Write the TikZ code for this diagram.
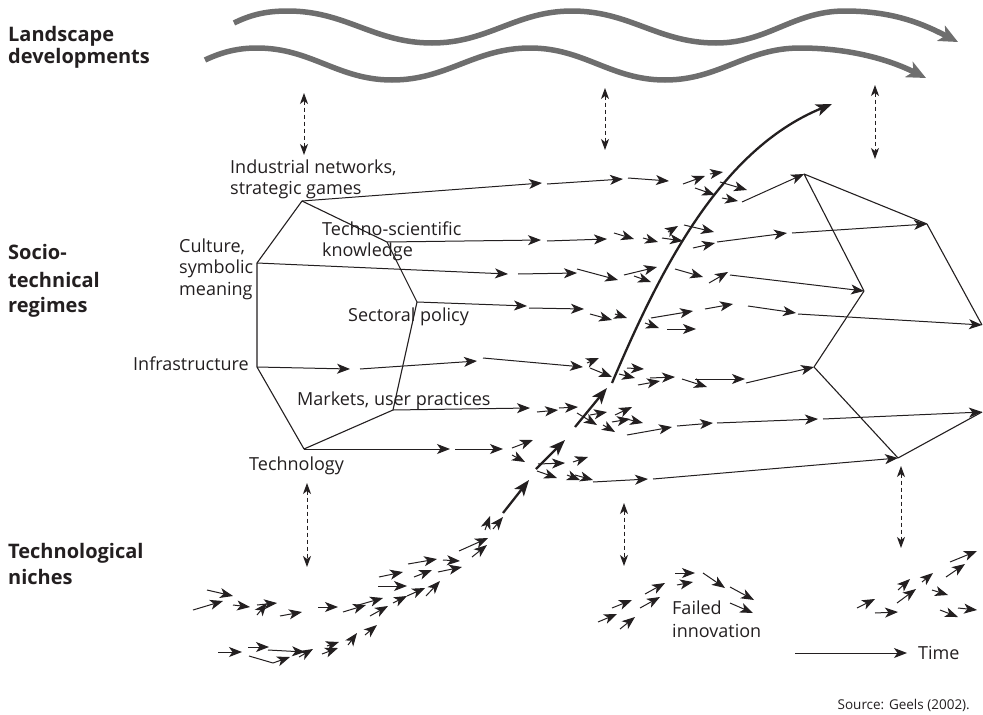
\documentclass[tikz,border=0pt]{standalone}
\usepackage{fontspec}
\setmainfont{Open Sans}
\usetikzlibrary{arrows.meta}
\definecolor{wavegray}{HTML}{6E6E6E}
\definecolor{ink}{HTML}{231F20}
\begin{document}
\begin{tikzpicture}[x=1pt,y=-1pt,line join=round,
  ar/.style={draw=ink,line width=1pt,-{Stealth[length=13pt,width=10pt,inset=3.5pt]}},
  tk/.style={draw=ink,line width=2.3pt,-{Stealth[length=16pt,width=12pt,inset=4pt]}},
  dd/.style={draw=ink,line width=1pt,dash pattern=on 4pt off 3pt,{Stealth[length=11pt,width=8pt,inset=3pt]}-{Stealth[length=11pt,width=8pt,inset=3pt]}},
  rim/.style={draw=ink,line width=1.1pt},
  wave/.style={draw=wavegray,line width=5.5pt,-{Stealth[length=19pt,width=17pt,inset=5pt]}},
  lbl/.style={anchor=base west,inner sep=0pt,text=ink,font=\fontsize{18}{21}\selectfont},
  hd/.style={anchor=base west,inner sep=0pt,text=ink,font=\bfseries\fontsize{20}{24}\selectfont}]
\useasboundingbox (0,0) rectangle (983,715);

% headings
\node[hd] (h1) at (8,41) {Landscape};
\node[hd] (h2) at (8,63) {developments};
\node[hd] (h3) at (8,259) {Socio-};
\node[hd] (h4) at (8,287) {technical};
\node[hd] (h5) at (8,312) {regimes};
\node[hd] (h6) at (8,558) {Technological};
\node[hd] (h7) at (8,584) {niches};

% landscape waves
\draw[wave] (234,23) .. controls (252,14) and (268,11) .. (288,11)
  to[out=0,in=180] (432,43) to[out=0,in=180] (572,11)
  to[out=0,in=180] (716,43) to[out=0,in=180] (845,11)
  .. controls (895,11) and (925,25) .. (958,42);
\draw[wave] (205,60) .. controls (222,52) and (238,48) .. (257,48)
  to[out=0,in=180] (392,80) to[out=0,in=180] (530,48)
  to[out=0,in=180] (665,80) to[out=0,in=180] (800,48)
  .. controls (850,48) and (890,60) .. (926,78);

% dashed interactions
\coordinate (d1a) at (304,93);  \coordinate (d1b) at (304,155);
\coordinate (d2a) at (605,88);  \coordinate (d2b) at (605,150);
\coordinate (d3a) at (875,85);  \coordinate (d3b) at (875,159);
\coordinate (d4a) at (307,483); \coordinate (d4b) at (307,567);
\coordinate (d5a) at (624,503); \coordinate (d5b) at (624,566);
\coordinate (d6a) at (901,466); \coordinate (d6b) at (901,548);
\draw[dd] (d1a) -- (d1b);
\draw[dd] (d2a) -- (d2b);
\draw[dd] (d3a) -- (d3b);
\draw[dd] (d4a) -- (d4b);
\draw[dd] (d5a) -- (d5b);
\draw[dd] (d6a) -- (d6b);

% left regime heptagon
\coordinate (LT) at (302,201);
\coordinate (LUR) at (387,242);
\coordinate (LR) at (417,302);
\coordinate (LLR) at (393,410);
\coordinate (LB) at (304,449);
\coordinate (LLL) at (257,367);
\coordinate (LUL) at (257,263);
\draw[rim] (LT) -- (LUR) -- (LR) -- (LLR) -- (LB) -- (LLL) -- (LUL) -- cycle;

% right regime heptagon
\coordinate (RT) at (804,174);
\coordinate (RUR) at (927,224);
\coordinate (RR) at (982,325);
\coordinate (RLR) at (982,412);
\coordinate (RB) at (898,458);
\coordinate (RLL) at (814,367);
\coordinate (RI) at (864,291);
\draw[rim] (RUR) -- (RT) -- (RI) -- (RLL) -- (RB) -- (RLR);
\draw[rim] (RUR) -- (RR);

% regime labels
\node[lbl] (t1) at (230,173) {Industrial networks,};
\node[lbl] (t2) at (230,194) {strategic games};
\node[lbl] (t3) at (322,235) {Techno-scientific};
\node[lbl] (t4) at (322,256) {knowledge};
\node[lbl] (t5) at (179,252) {Culture,};
\node[lbl] (t6) at (179,273) {symbolic};
\node[lbl] (t7) at (179,295) {meaning};
\node[lbl] (t8) at (348,321) {Sectoral policy};
\node[lbl] (t9) at (133,370) {Infrastructure};
\node[lbl] (t10) at (297,405) {Markets, user practices};
\node[lbl] (t11) at (249,470) {Technology};

% row 1
\draw[ar] (LT) -- (542,183);
\foreach \ax/\ay/\bx/\by in {547/184/623/179, 628/178/669/181, 683/184/705/176,
  710/174/723/172, 695/188/715/195, 720/182/747/190, 722/198/738/201}
  \draw[ar] (\ax,\ay) -- (\bx,\by);
\draw[ar] (742,202) -- (RT);
% row 2
\draw[ar] (LUR) -- (541,240);
\foreach \ax/\ay/\bx/\by in {547/241/607/239, 614/233/634/239, 643/238/658/242,
  662/238/683/241, 668/232/678/226, 684/225/714/232, 693/248/715/243, 717/242/787/233}
  \draw[ar] (\ax,\ay) -- (\bx,\by);
\draw[ar] (792,233) -- (RUR);
% row 3
\draw[ar] (LUL) -- (508,274);
\foreach \ax/\ay/\bx/\by in {518/274/577/273, 577/269/618/280, 624/275/657/267,
  634/276/651/282, 675/269/703/277, 709/283/728/272}
  \draw[ar] (\ax,\ay) -- (\bx,\by);
\draw[ar] (730,275) -- (RI);
% row 4
\draw[ar] (LR) -- (527,306);
\foreach \ax/\ay/\bx/\by in {529/308/584/309, 590/314/612/320, 615/314/627/318,
  651/318/693/311, 645/323/659/328, 667/329/696/329, 705/309/733/304, 748/306/796/313}
  \draw[ar] (\ax,\ay) -- (\bx,\by);
\draw[ar] (798,314) -- (RR);
% row 5
\draw[ar] (LLL) -- (350,369);
\foreach \ax/\ay/\bx/\by in {360/369/477/361, 483/358/583/367, 587/363/599/358,
  590/368/612/377, 619/374/635/378, 627/368/644/369, 650/378/675/377,
  638/385/660/381, 682/379/707/387, 695/379/745/379}
  \draw[ar] (\ax,\ay) -- (\bx,\by);
\draw[ar] (746,383) -- (RLL);
% row 6
\draw[ar] (LLR) -- (530,408);
\foreach \ax/\ay/\bx/\by in {537/412/558/410, 559/408/578/407, 577/413/597/425,
  590/415/607/412, 603/425/615/432, 612/422/630/419, 615/415/632/407,
  622/418/643/423, 627/435/672/427, 677/426/713/423, 717/423/818/419}
  \draw[ar] (\ax,\ay) -- (\bx,\by);
\draw[ar] (823,419) -- (RLR);
% row 7
\draw[ar] (LB) -- (450,449);
\foreach \ax/\ay/\bx/\by in {455/449/503/449, 512/448/533/440, 512/455/525/462,
  538/464/565/463, 537/471/557/478, 573/462/588/457, 567/475/580/480,
  575/475/593/480, 593/482/648/479}
  \draw[ar] (\ax,\ay) -- (\bx,\by);
\draw[ar] (653,479) -- (RB);

% transition path
\draw[tk] (503,513) -- (529,480);
\draw[tk] (536,469) -- (565,440);
\draw[tk] (575,427) -- (607,388);
\draw[tk] (612,383) .. controls (660,270) and (720,150) .. (832,104);

% left niche
\foreach \ax/\ay/\bx/\by in {207/590/233/596, 193/610/223/601, 233/605/250/607,
  257/605/277/603, 257/615/267/603, 280/616/302/612, 318/607/338/607,
  343/612/366/605, 355/606/383/598, 370/616/388/606,
  379/577/403/572, 378/586/407/586, 414/577/432/570, 408/564/437/559,
  443/560/460/561, 438/572/462/567, 393/603/407/596, 407/596/425/588,
  426/596/440/581, 459/551/488/538, 472/557/487/545, 485/530/490/516,
  493/529/503/517,
  218/652/242/652, 248/647/269/647, 268/650/305/652, 299/657/313/649,
  322/654/338/648, 327/646/339/642, 348/645/357/633, 365/635/377/625}
  \draw[ar] (\ax,\ay) -- (\bx,\by);
\draw[ar] (249,656) -- (273,663) -- (290,657);

% failed innovation niche
\foreach \ax/\ay/\bx/\by in {598/622/617/614, 612/608/632/600, 620/629/635/617,
  640/608/660/597, 645/594/665/583, 675/573/695/573, 677/585/693/582,
  703/573/725/588, 730/587/754/600, 730/603/753/613}
  \draw[ar] (\ax,\ay) -- (\bx,\by);
\node[lbl] (fi1) at (672,614) {Failed};
\node[lbl] (fi2) at (672,637) {innovation};

% right niche
\foreach \ax/\ay/\bx/\by in {857/608/875/599, 875/613/898/612, 897/603/916/589,
  898/590/910/579, 922/582/933/573, 946/577/965/564, 950/562/977/551,
  932/590/948/595, 940/610/958/617, 958/608/977/610}
  \draw[ar] (\ax,\ay) -- (\bx,\by);

% time
\coordinate (tm0) at (795,653);
\coordinate (tm1) at (907,653);
\node[lbl] (tm) at (918,659) {Time};
\draw[ar] (tm0) -- (tm1);

\node[anchor=base east,inner sep=0pt,text=ink,font=\fontsize{13.5}{16}\selectfont] (src) at (970,709) {Source: Geels (2002).};
\end{tikzpicture}
\end{document}
